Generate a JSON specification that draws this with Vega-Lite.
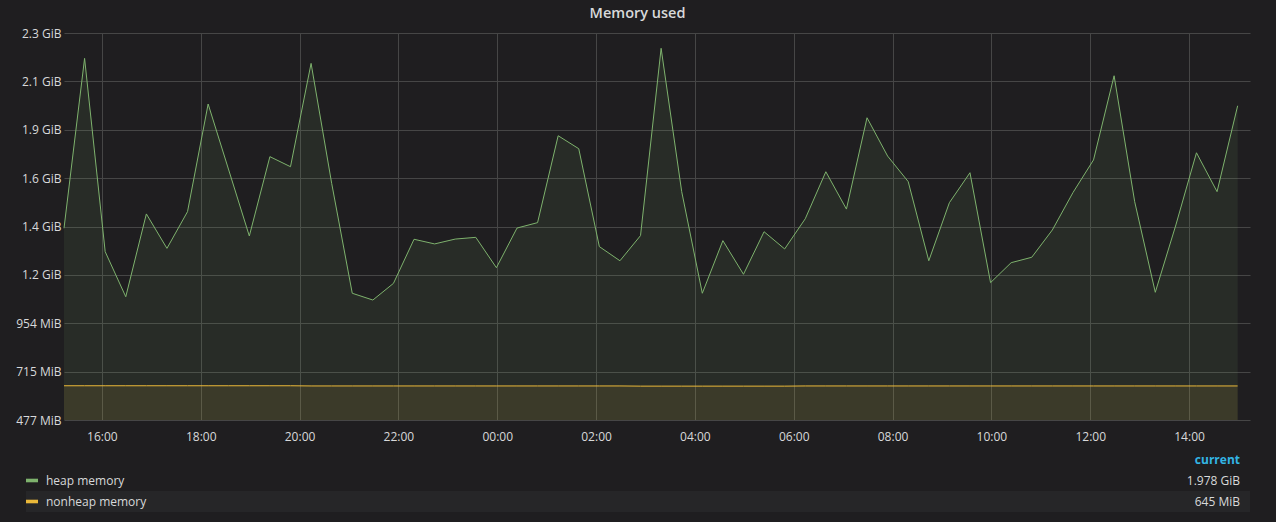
{
  "$schema": "https://vega.github.io/schema/vega-lite/v6.json",
  "background": "#1f1e20",
  "padding": {"left": 5, "top": 5, "right": 26, "bottom": 10},
  "title": {"text": "Memory used", "color": "#d8d9da", "font": "Open Sans", "fontSize": 14.5, "fontWeight": 600, "anchor": "middle", "offset": 6, "dx": 10},
  "config": {"view": {"stroke": null}, "font": "Open Sans"},
  "spacing": 0,
  "datasets": {
    "mem": [
      {"t": 0, "heap": 1491, "nonheap": 677},
      {"t": 1, "heap": 2369, "nonheap": 677},
      {"t": 2, "heap": 1370, "nonheap": 677},
      {"t": 3, "heap": 1137, "nonheap": 677},
      {"t": 4, "heap": 1565, "nonheap": 677},
      {"t": 5, "heap": 1387, "nonheap": 677},
      {"t": 6, "heap": 1577, "nonheap": 677},
      {"t": 7, "heap": 2133, "nonheap": 677},
      {"t": 8, "heap": 1792, "nonheap": 677},
      {"t": 9, "heap": 1451, "nonheap": 677},
      {"t": 10, "heap": 1861, "nonheap": 677},
      {"t": 11, "heap": 1809, "nonheap": 677},
      {"t": 12, "heap": 2343, "nonheap": 676},
      {"t": 13, "heap": 1723, "nonheap": 676},
      {"t": 14, "heap": 1155, "nonheap": 676},
      {"t": 15, "heap": 1120, "nonheap": 676},
      {"t": 16, "heap": 1206, "nonheap": 676},
      {"t": 17, "heap": 1434, "nonheap": 676},
      {"t": 18, "heap": 1410, "nonheap": 676},
      {"t": 19, "heap": 1435, "nonheap": 676},
      {"t": 20, "heap": 1444, "nonheap": 676},
      {"t": 21, "heap": 1287, "nonheap": 676},
      {"t": 22, "heap": 1492, "nonheap": 676},
      {"t": 23, "heap": 1520, "nonheap": 676},
      {"t": 24, "heap": 1969, "nonheap": 676},
      {"t": 25, "heap": 1902, "nonheap": 676},
      {"t": 26, "heap": 1396, "nonheap": 676},
      {"t": 27, "heap": 1323, "nonheap": 676},
      {"t": 28, "heap": 1453, "nonheap": 675},
      {"t": 29, "heap": 2421, "nonheap": 675},
      {"t": 30, "heap": 1680, "nonheap": 675},
      {"t": 31, "heap": 1155, "nonheap": 675},
      {"t": 32, "heap": 1427, "nonheap": 675},
      {"t": 33, "heap": 1253, "nonheap": 675},
      {"t": 34, "heap": 1473, "nonheap": 675},
      {"t": 35, "heap": 1384, "nonheap": 675},
      {"t": 36, "heap": 1540, "nonheap": 676},
      {"t": 37, "heap": 1783, "nonheap": 676},
      {"t": 38, "heap": 1590, "nonheap": 676},
      {"t": 39, "heap": 2062, "nonheap": 676},
      {"t": 40, "heap": 1864, "nonheap": 676},
      {"t": 41, "heap": 1732, "nonheap": 676},
      {"t": 42, "heap": 1323, "nonheap": 676},
      {"t": 43, "heap": 1623, "nonheap": 676},
      {"t": 44, "heap": 1778, "nonheap": 676},
      {"t": 45, "heap": 1210, "nonheap": 676},
      {"t": 46, "heap": 1313, "nonheap": 676},
      {"t": 47, "heap": 1341, "nonheap": 676},
      {"t": 48, "heap": 1482, "nonheap": 676},
      {"t": 49, "heap": 1675, "nonheap": 676},
      {"t": 50, "heap": 1844, "nonheap": 676},
      {"t": 51, "heap": 2279, "nonheap": 676},
      {"t": 52, "heap": 1628, "nonheap": 676},
      {"t": 53, "heap": 1160, "nonheap": 676},
      {"t": 54, "heap": 1508, "nonheap": 676},
      {"t": 55, "heap": 1881, "nonheap": 676},
      {"t": 56, "heap": 1680, "nonheap": 676},
      {"t": 57, "heap": 2124, "nonheap": 676}
    ],
    "legendrows": [
      {"series": "header", "label": "", "current": "current"},
      {"series": "heap", "label": "heap memory", "current": "1.978 GiB"},
      {"series": "nonheap", "label": "nonheap memory", "current": "645 MiB"}
    ]
  },
  "vconcat": [
    {
      "width": 1186,
      "height": 387,
      "data": {"name": "mem"},
      "transform": [{"fold": ["heap", "nonheap"], "as": ["series", "mb"]}],
      "encoding": {
        "x": {
          "field": "t", "type": "quantitative",
          "scale": {"domain": [0, 57.6], "nice": false, "zero": false},
          "axis": {"title": null, "values": [1.84, 6.64, 11.44, 16.24, 21.04, 25.84, 30.64, 35.44, 40.24, 45.04, 49.84, 54.64], "labelExpr": "['16:00','18:00','20:00','22:00','00:00','02:00','04:00','06:00','08:00','10:00','12:00','14:00'][round((datum.value - 1.84) / 4.8)]", "grid": true, "gridColor": "#464646", "gridOpacity": 1, "ticks": false, "domain": false, "labelColor": "#d8d9da", "labelFontSize": 12, "labelFont": "Open Sans", "labelPadding": 11, "labelFlush": false, "minExtent": 29, "maxExtent": 29}
        },
        "y": {
          "field": "mb", "type": "quantitative", "stack": null,
          "scale": {"domain": [500, 2500], "zero": false, "nice": false},
          "axis": {"title": null, "values": [500, 750, 1000, 1250, 1500, 1750, 2000, 2250, 2500], "labelExpr": "datum.value < 1073.741824 ? format(datum.value * 1000000 / 1048576, '.0f') + ' MiB' : format(datum.value * 1000000 / 1073741824, '.1f') + ' GiB'", "grid": true, "gridColor": "#464646", "gridOpacity": 1, "ticks": false, "domain": false, "labelColor": "#d8d9da", "labelFontSize": 12, "labelFont": "Open Sans", "labelPadding": 3, "minExtent": 59, "maxExtent": 59}
        },
        "color": {"field": "series", "type": "nominal", "scale": {"domain": ["heap", "nonheap"], "range": ["#7eb26d", "#eab839"]}, "legend": null}
      },
      "layer": [
        {"mark": {"type": "area", "fillOpacity": 0.1}},
        {"mark": {"type": "line", "strokeWidth": 1}}
      ]
    },
    {
      "width": 1186,
      "height": 63,
      "data": {"name": "legendrows"},
      "encoding": {
        "y": {"field": "series", "type": "nominal", "scale": {"domain": ["header", "heap", "nonheap"], "paddingInner": 0, "paddingOuter": 0}, "axis": null}
      },
      "layer": [
        {
          "transform": [{"filter": "datum.series === 'nonheap'"}],
          "mark": {"type": "rect", "color": "#262628", "xOffset": -38, "x2Offset": 0},
          "encoding": {
            "x": {"datum": 0, "type": "quantitative", "scale": {"domain": [0, 1], "nice": false, "zero": false}, "axis": null},
            "x2": {"datum": 1}
          }
        },
        {
          "transform": [{"filter": "datum.series !== 'header'"}],
          "mark": {"type": "point", "shape": "M-1,-0.3L1,-0.3L1,0.3L-1,0.3Z", "size": 144, "filled": true, "opacity": 1, "strokeWidth": 0, "xOffset": -32},
          "encoding": {
            "x": {"datum": 0, "type": "quantitative"},
            "color": {"field": "series", "type": "nominal", "legend": null}
          }
        },
        {
          "transform": [{"filter": "datum.series !== 'header'"}],
          "mark": {"type": "text", "align": "left", "baseline": "middle", "dx": -18, "fontSize": 12, "font": "Open Sans", "color": "#d8d9da"},
          "encoding": {
            "x": {"datum": 0, "type": "quantitative"},
            "text": {"field": "label"}
          }
        },
        {
          "transform": [{"filter": "datum.series !== 'header'"}],
          "mark": {"type": "text", "align": "right", "baseline": "middle", "dx": -10, "fontSize": 12, "font": "Open Sans", "color": "#d8d9da"},
          "encoding": {
            "x": {"datum": 1, "type": "quantitative"},
            "text": {"field": "current"}
          }
        },
        {
          "transform": [{"filter": "datum.series === 'header'"}],
          "mark": {"type": "text", "align": "right", "baseline": "middle", "dx": -10, "fontSize": 12, "fontWeight": "bold", "font": "Open Sans", "color": "#33b5e5"},
          "encoding": {
            "x": {"datum": 1, "type": "quantitative"},
            "text": {"field": "current"}
          }
        }
      ]
    }
  ]
}
